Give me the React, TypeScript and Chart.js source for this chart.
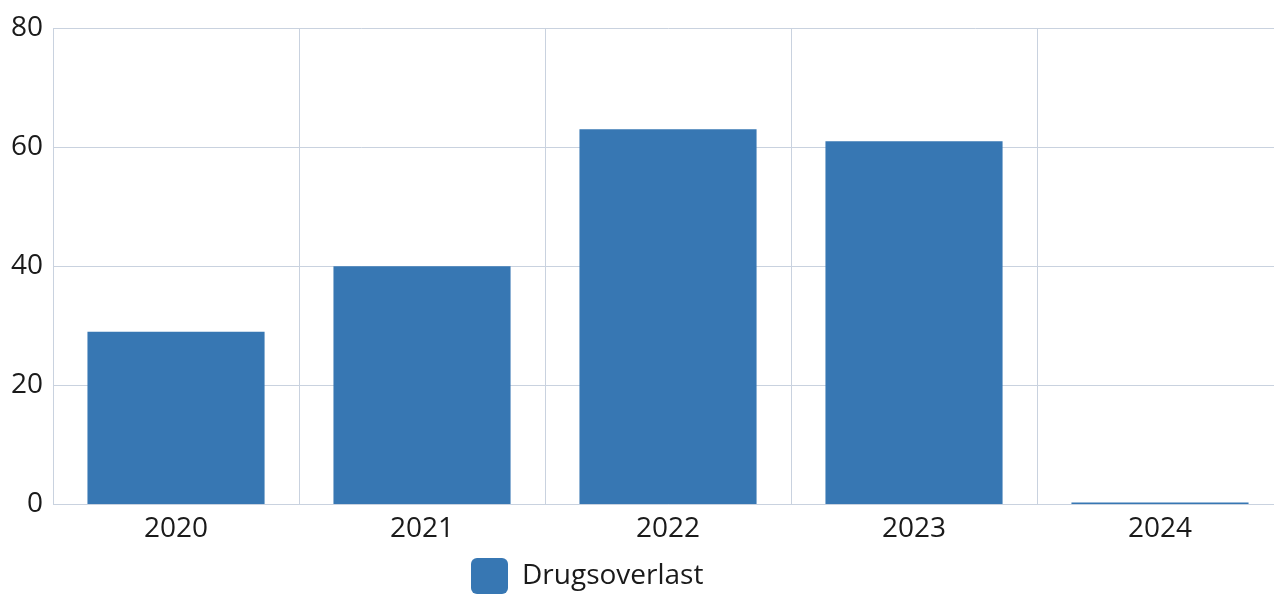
import React, { useEffect, useRef } from "react";
import { Chart, registerables } from "chart.js";

Chart.register(...registerables);

const categories = ["2020", "2021", "2022", "2023", "2024"];
const seriesLabel = "Drugsoverlast";
const seriesValues = [29, 40, 63, 61, 0];
const yTicks = [0, 20, 40, 60, 80];

const FONT = "'Open Sans', 'Noto Sans', sans-serif";

const legendShift = {
  id: "legendShift",
  afterLayout(chart: any) {
    const lg = chart.legend;
    if (lg) {
      lg.left = 467;
    }
  },
};

export default function App() {
  const ref = useRef<HTMLCanvasElement | null>(null);
  useEffect(() => {
    if (!ref.current) return;
    const chart = new Chart(ref.current, {
      type: "bar",
      data: {
        labels: categories,
        datasets: [
          {
            label: seriesLabel,
            data: seriesValues,
            backgroundColor: "#3777b3",
            borderColor: "#3777b3",
            borderWidth: 0,
            minBarLength: 2,
          },
        ],
      },
      options: {
        animation: false,
        responsive: false,
        layout: { padding: { left: 1, right: 1, top: 28, bottom: 0 } },
        plugins: {
          tooltip: { enabled: false },
          legend: {
            position: "bottom",
            align: "start",
            labels: {
              font: { family: FONT, size: 28 },
              color: "#1a1a1a",
              boxWidth: 37,
              boxHeight: 36,
              useBorderRadius: true,
              borderRadius: 6,
              padding: 4,
            },
          },
        },
        scales: {
          x: {
            grid: { color: "#c9d2df", drawTicks: false },
            border: { color: "#c9d2df" },
            ticks: {
              font: { family: FONT, size: 28 },
              color: "#1a1a1a",
              padding: 8,
            },
          },
          y: {
            min: 0,
            max: 80,
            afterBuildTicks: (axis: any) => {
              axis.ticks = yTicks.map((v) => ({ value: v }));
            },
            grid: { color: "#c9d2df", drawTicks: false },
            border: { color: "#c9d2df" },
            ticks: {
              font: { family: FONT, size: 28 },
              color: "#1a1a1a",
              padding: 10,
            },
          },
        },
      },
      plugins: [legendShift],
    });
    return () => chart.destroy();
  }, []);
  return (
    <div
      style={{
        position: "fixed",
        left: 0,
        top: 0,
        width: 1274,
        height: 595,
        overflow: "hidden",
        background: "#fff",
      }}
    >
      <canvas ref={ref} width={1284} height={604} style={{ display: "block" }} />
    </div>
  );
}
